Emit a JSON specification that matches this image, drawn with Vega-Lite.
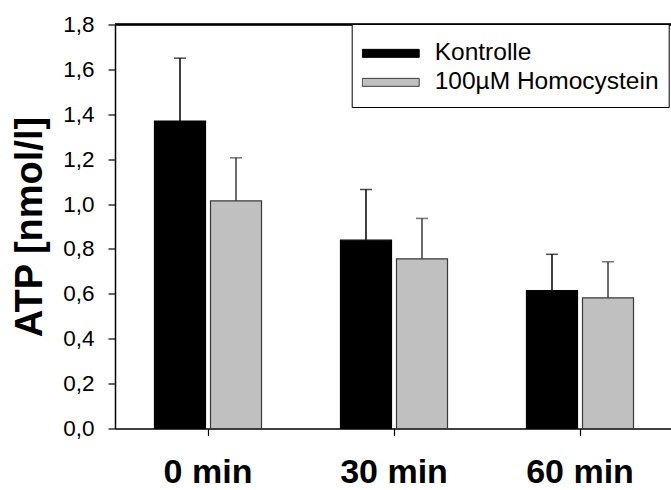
{
  "$schema": "https://vega.github.io/schema/vega-lite/v6.json",
  "width": 556,
  "height": 404,
  "autosize": {"type": "none"},
  "padding": {"left": 115, "top": 24.5, "right": 0, "bottom": 61.5},
  "background": "white",
  "config": {
    "font": "Liberation Sans",
    "view": {"stroke": null},
    "locale": {"number": {"decimal": ",", "thousands": ".", "grouping": [3], "currency": ["", " €"]}},
    "axis": {"domainColor": "black", "domainWidth": 1.5, "tickColor": "black", "tickWidth": 1.2, "tickSize": 7, "labelColor": "black", "titleColor": "black", "grid": false}
  },
  "data": {
    "values": [
      {"time": "0 min", "group": "Kontrolle", "mean": 1.37, "upper": 1.65},
      {"time": "0 min", "group": "100µM Homocystein", "mean": 1.014, "upper": 1.206},
      {"time": "30 min", "group": "Kontrolle", "mean": 0.839, "upper": 1.065},
      {"time": "30 min", "group": "100µM Homocystein", "mean": 0.756, "upper": 0.936},
      {"time": "60 min", "group": "Kontrolle", "mean": 0.614, "upper": 0.776},
      {"time": "60 min", "group": "100µM Homocystein", "mean": 0.582, "upper": 0.743}
    ]
  },
  "encoding": {
    "x": {
      "field": "time",
      "type": "nominal",
      "sort": ["0 min", "30 min", "60 min"],
      "scale": {"range": [0, 558], "paddingInner": 0, "paddingOuter": 0},
      "axis": {"title": null, "labelAngle": 0, "labelFont": "Liberation Sans", "labelFontWeight": "bold", "labelFontSize": 34, "labelPadding": 20, "labelBaseline": "top"}
    },
    "xOffset": {
      "field": "group",
      "type": "nominal",
      "sort": ["Kontrolle", "100µM Homocystein"],
      "scale": {"paddingInner": 0.0893, "paddingOuter": 0.705}
    }
  },
  "layer": [
    {
      "mark": {"type": "rule", "color": "black", "strokeWidth": 1.5},
      "encoding": {"y": {"datum": 1.8, "type": "quantitative"}, "x": null, "xOffset": null}
    },
    {
      "mark": {"type": "bar", "strokeWidth": 1.2},
      "encoding": {
        "y": {
          "field": "mean",
          "type": "quantitative",
          "scale": {"domain": [0, 1.8], "nice": false, "zero": true},
          "axis": {
            "title": "ATP [nmol/l]",
            "titleFont": "Liberation Sans",
            "titleFontWeight": "bold",
            "titleFontSize": 38,
            "titlePadding": 13,
            "values": [0, 0.2, 0.4, 0.6, 0.8, 1.0, 1.2, 1.4, 1.6, 1.8],
            "format": ".1f",
            "labelFontSize": 22.5,
            "labelPadding": 14
          }
        },
        "fill": {
          "field": "group",
          "type": "nominal",
          "sort": ["Kontrolle", "100µM Homocystein"],
          "scale": {"domain": ["Kontrolle", "100µM Homocystein"], "range": ["#000000", "#c0c0c0"]},
          "legend": {
            "title": " ",
            "titleFontSize": 2,
            "titlePadding": 3,
            "orient": "none",
            "legendX": 236.7,
            "legendY": -0.5,
            "padding": 10,
            "strokeColor": "black",
            "fillColor": "white",
            "symbolType": "M-1,-0.14H1V0.14H-1Z",
            "symbolSize": 3249,
            "symbolStrokeColor": "#333333",
            "symbolStrokeWidth": 1,
            "symbolOpacity": 1,
            "clipHeight": 28.7,
            "labelFont": "Liberation Sans",
            "labelFontSize": 24.5,
            "labelColor": "black",
            "labelOffset": 15,
            "rowPadding": 0,
            "labelLimit": 400
          }
        },
        "stroke": {
          "field": "group",
          "type": "nominal",
          "scale": {"domain": ["Kontrolle", "100µM Homocystein"], "range": ["#000000", "#3a3a3a"]},
          "legend": null
        }
      }
    },
    {
      "mark": {"type": "rule", "strokeWidth": 1.5},
      "encoding": {
        "y": {"field": "mean", "type": "quantitative"},
        "y2": {"field": "upper"},
        "stroke": {"field": "group", "type": "nominal", "legend": null}
      }
    },
    {
      "mark": {"type": "tick", "thickness": 1.5, "size": 12, "orient": "horizontal"},
      "encoding": {
        "y": {"field": "upper", "type": "quantitative"},
        "color": {"field": "group", "type": "nominal", "scale": {"domain": ["Kontrolle", "100µM Homocystein"], "range": ["#000000", "#3a3a3a"]}, "legend": null}
      }
    }
  ]
}
